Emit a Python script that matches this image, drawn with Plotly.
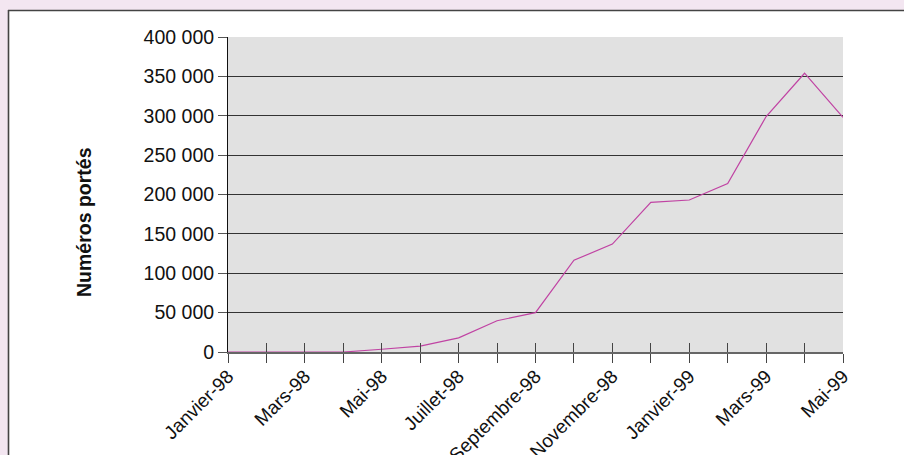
import plotly.graph_objects as go

months = ["Janvier-98", "Février-98", "Mars-98", "Avril-98", "Mai-98", "Juin-98",
          "Juillet-98", "Août-98", "Septembre-98", "Octobre-98", "Novembre-98",
          "Décembre-98", "Janvier-99", "Février-99", "Mars-99", "Avril-99", "Mai-99"]
values = [0, 0, 0, 0, 3500, 7400, 18000, 39700, 50000, 116500, 137000,
          190000, 193000, 214000, 299000, 354000, 298000]
tick_labels = [m if i % 2 == 0 else "" for i, m in enumerate(months)]
y_ticks = [0, 50000, 100000, 150000, 200000, 250000, 300000, 350000, 400000]
y_title = "Numéros portés"

W, H = 904, 455
L, R, T, B = 228, 61, 37, 103
PW, PH = W - L - R, H - T - B

def px(x):
    return (x - L) / PW

def py(y):
    return (H - B - y) / PH

x_idx = list(range(len(months)))

fig = go.Figure()
fig.add_trace(go.Scatter(x=x_idx, y=values, mode="lines",
                         line=dict(color="#c043a3", width=1.2),
                         showlegend=False, hoverinfo="skip"))
fig.add_trace(go.Scatter(x=x_idx, y=[None] * len(x_idx), xaxis="x2", mode="lines",
                         showlegend=False, hoverinfo="skip"))

font = dict(family="Liberation Sans, Arial, sans-serif", size=19.5, color="#111")

fig.update_layout(
    width=W, height=H,
    margin=dict(l=L, r=R, t=T, b=B, pad=0),
    paper_bgcolor="white",
    plot_bgcolor="#e1e1e1",
    separators=", ",
    font=font,
    xaxis=dict(range=[0, 16], tickvals=x_idx, ticktext=tick_labels, tickangle=-45,
               ticks="outside", ticklen=9, tickcolor="#444", tickwidth=1.3,
               showgrid=False, showline=True, linecolor="#666", linewidth=1.5,
               zeroline=False, tickfont=dict(size=19), automargin=False,
               ticklabelstandoff=-5),
    xaxis2=dict(range=[0, 16], tickvals=x_idx, overlaying="x", anchor="y", side="bottom",
                ticks="inside", ticklen=9, tickcolor="#444", tickwidth=1.3,
                showticklabels=False, showgrid=False, showline=False, zeroline=False,
                automargin=False),
    yaxis=dict(range=[0, 400000], tickvals=y_ticks, tickformat=",.0f",
               ticks="outside", ticklen=9, tickcolor="#555", tickwidth=1.3,
               showgrid=True, gridcolor="#333", gridwidth=1,
               showline=True, linecolor="#111", linewidth=1, zeroline=False,
               automargin=False),
    annotations=[
        dict(text="<b>" + y_title + "</b>", xref="paper", yref="paper",
             x=px(84), y=py(222), textangle=-90, showarrow=False,
             xanchor="center", yanchor="middle", font=dict(size=19.5, color="#111")),
    ],
    shapes=[
        dict(type="rect", xref="paper", yref="paper", x0=px(-5), x1=px(8), y0=py(-5), y1=py(H + 5),
             fillcolor="#f3e6f1", line=dict(width=0), layer="above"),
        dict(type="rect", xref="paper", yref="paper", x0=px(-5), x1=px(W + 5), y0=py(-5), y1=py(10),
             fillcolor="#f3e6f1", line=dict(width=0), layer="above"),
        dict(type="line", xref="paper", yref="paper", x0=px(8.5), x1=px(8.5), y0=py(10), y1=py(H + 5),
             line=dict(color="#444", width=1.6), layer="above"),
        dict(type="line", xref="paper", yref="paper", x0=px(8), x1=px(W + 5), y0=py(10.5), y1=py(10.5),
             line=dict(color="#444", width=1.6), layer="above"),
    ],
)

fig.write_html("out.html")
